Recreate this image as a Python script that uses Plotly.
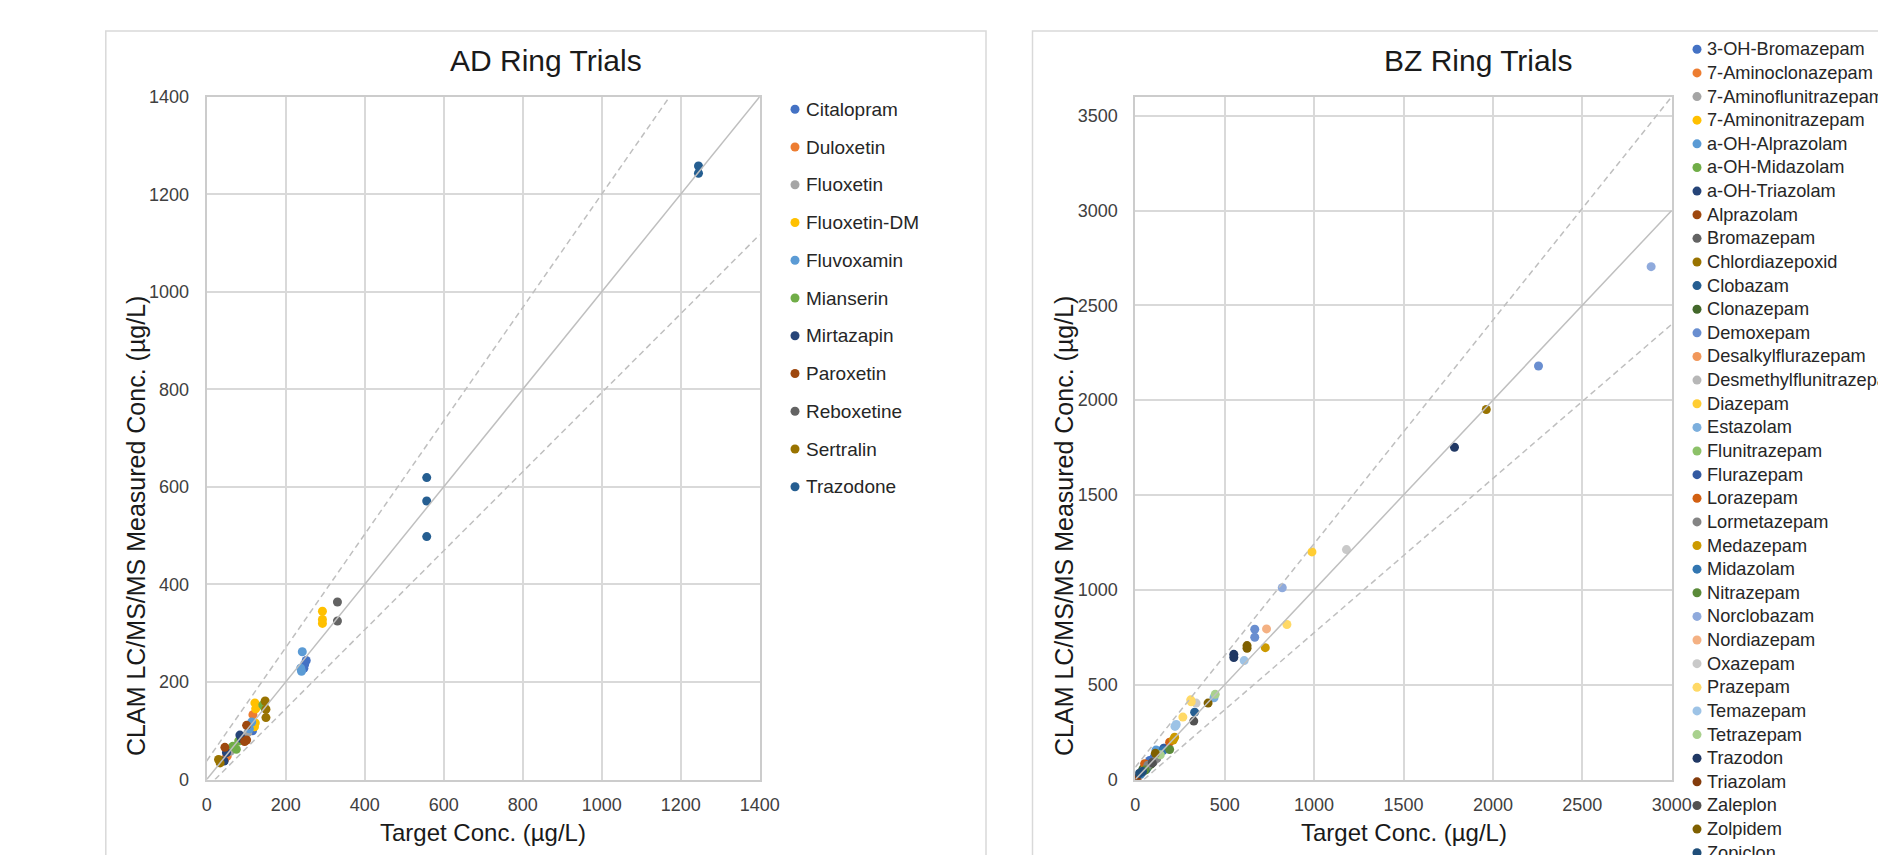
import plotly.graph_objects as go

# ---------------- data ----------------
AD_NAMES = ["Citalopram", "Duloxetin", "Fluoxetin", "Fluoxetin-DM", "Fluvoxamin", "Mianserin",
            "Mirtazapin", "Paroxetin", "Reboxetine", "Sertralin", "Trazodone"]
AD_COLORS = ["#4472C4", "#ED7D31", "#A5A5A5", "#FFC000", "#5B9BD5", "#70AD47",
             "#264478", "#9E480E", "#636363", "#997300", "#255E91"]
AD_TARGET = [
    [112, 116, 248, 252, 246],
    [117, 52, 46],
    [104, 60],
    [293, 293, 293, 122, 124, 123, 121],
    [242, 240, 238, 114, 108],
    [142, 146, 81, 75, 66],
    [84, 88, 50, 44],
    [101, 101, 46, 96],
    [331, 331],
    [148, 150, 150, 30, 34],
    [557, 557, 557, 1245, 1245],
]
AD_MEASURED = [
    [112, 100, 236, 244, 228],
    [133, 48, 42],
    [96, 58],
    [345, 328, 320, 157, 145, 116, 108],
    [262, 222, 228, 118, 104],
    [153, 148, 79, 62, 68],
    [91, 84, 55, 38],
    [111, 81, 66, 78],
    [364, 325],
    [161, 144, 127, 41, 34],
    [619, 571, 498, 1258, 1243],
]

BZ_NAMES = ["3-OH-Bromazepam", "7-Aminoclonazepam", "7-Aminoflunitrazepam", "7-Aminonitrazepam",
            "a-OH-Alprazolam", "a-OH-Midazolam", "a-OH-Triazolam", "Alprazolam", "Bromazepam",
            "Chlordiazepoxid", "Clobazam", "Clonazepam", "Demoxepam", "Desalkylflurazepam",
            "Desmethylflunitrazepam", "Diazepam", "Estazolam", "Flunitrazepam", "Flurazepam",
            "Lorazepam", "Lormetazepam", "Medazepam", "Midazolam", "Nitrazepam", "Norclobazam",
            "Nordiazepam", "Oxazepam", "Prazepam", "Temazepam", "Tetrazepam", "Trazodon",
            "Triazolam", "Zaleplon", "Zolpidem", "Zopiclon"]
BZ_COLORS = ["#4472C4", "#ED7D31", "#A5A5A5", "#FFC000", "#5B9BD5", "#70AD47", "#264478",
             "#9E480E", "#636363", "#997300", "#255E91", "#43682B", "#698ED0", "#F1975A",
             "#B7B7B7", "#FFCD33", "#7CAFDD", "#8CC168", "#335AA1", "#D26012", "#848484",
             "#CC9A00", "#3276B1", "#5A8A39", "#8FAADC", "#F4B183", "#C9C9C9", "#FFD966",
             "#9DC3E6", "#A9D18E", "#203864", "#843C0C", "#525252", "#7F6000", "#1F4E79"]
BZ_TARGET = [
    [80, 105], [30, 62], [15, 40], [45, 25], [116, 130], [35, 70], [10, 20], [8, 14],
    [90, 100], [1963], [332, 60], [43, 85], [2255, 668, 668], [25, 55], [18, 48], [988],
    [440, 160], [127], [160, 72], [192, 52], [70, 120], [727, 220, 212], [155, 30],
    [192, 55], [2885, 822], [734], [1181, 340], [848, 313, 266, 310], [609, 229, 222],
    [447, 140], [1785, 551, 551], [5, 3], [327, 95], [625, 625, 407, 112], [22, 40],
]
BZ_MEASURED = [
    [100, 118], [36, 70], [14, 38], [50, 28], [155, 150], [40, 65], [12, 22], [6, 12],
    [83, 92], [1951], [355, 52], [56, 80], [2180, 792, 750], [30, 60], [20, 46], [1200],
    [431, 165], [135], [165, 78], [197, 83], [75, 110], [695, 223, 208], [153, 28],
    [158, 50], [2704, 1011], [794], [1212, 403], [817, 410, 329, 420], [627, 290, 280],
    [449, 130], [1752, 660, 643], [4, 2], [308, 88], [706, 692, 403, 138], [32, 42],
]

# reference lines
AD_IDENTITY_X = [0, 1400]
AD_IDENTITY_Y = [0, 1400]
AD_UPPER_X = [0, 1172]
AD_UPPER_Y = [38, 1400]
AD_LOWER_X = [21, 1400]
AD_LOWER_Y = [0, 1117]
BZ_IDENTITY_X = [0, 3000]
BZ_IDENTITY_Y = [0, 3000]
BZ_UPPER_X = [0, 3000]
BZ_UPPER_Y = [65, 3600]
BZ_LOWER_X = [48, 3000]
BZ_LOWER_Y = [0, 2400]

AD_TITLE = "AD Ring Trials"
BZ_TITLE = "BZ Ring Trials"
X_TITLE = "Target Conc. (µg/L)"
Y_TITLE = "CLAM LC/MS/MS Measured Conc. (µg/L)"

# ---------------- layout helpers ----------------
# the page body has an 8px margin, so the figure starts at (8, 8) in the window
OFF = 8
W, H = 1886 - OFF, 855 - OFF
FONT = "Liberation Sans, Arial, sans-serif"


def fx(p):
    return (p - OFF) / W


def fy(p):
    return 1 - (p - OFF) / H


fig = go.Figure()

MARKER_SIZE = 9
for name, col, xs, ys in zip(AD_NAMES, AD_COLORS, AD_TARGET, AD_MEASURED):
    fig.add_trace(go.Scatter(x=xs, y=ys, mode="markers", name=name, showlegend=False,
                             marker=dict(color=col, size=MARKER_SIZE, line=dict(width=0)),
                             xaxis="x", yaxis="y"))
for name, col, xs, ys in zip(BZ_NAMES, BZ_COLORS, BZ_TARGET, BZ_MEASURED):
    fig.add_trace(go.Scatter(x=xs, y=ys, mode="markers", name=name, showlegend=False,
                             marker=dict(color=col, size=MARKER_SIZE, line=dict(width=0)),
                             xaxis="x2", yaxis="y2"))

LINE_COL = "#BFBFBF"
DASH = "6px,4px"
for (lx, ly, dash, xa, ya) in [
    (AD_IDENTITY_X, AD_IDENTITY_Y, "solid", "x", "y"),
    (AD_UPPER_X, AD_UPPER_Y, DASH, "x", "y"),
    (AD_LOWER_X, AD_LOWER_Y, DASH, "x", "y"),
    (BZ_IDENTITY_X, BZ_IDENTITY_Y, "solid", "x2", "y2"),
    (BZ_UPPER_X, BZ_UPPER_Y, DASH, "x2", "y2"),
    (BZ_LOWER_X, BZ_LOWER_Y, DASH, "x2", "y2"),
]:
    fig.add_trace(go.Scatter(x=lx, y=ly, mode="lines", showlegend=False, hoverinfo="skip",
                             line=dict(color=LINE_COL, width=1.5, dash=dash),
                             xaxis=xa, yaxis=ya))

# plot areas (window pixels)
AD_L, AD_R, TOP, BOT = 206.7, 759.7, 96.7, 779.5
BZ_L, BZ_R = 1135.3, 1671.7

axis_common = dict(
    showgrid=True, gridcolor="#D9D9D9", gridwidth=1.5,
    showline=True, linecolor="#CCCCCC", linewidth=2, mirror=True,
    zeroline=False, ticks="", automargin=False,
    tickfont=dict(family=FONT, size=18, color="#404040"),
    fixedrange=True,
)

fig.update_layout(
    template="none",
    width=W, height=H,
    margin=dict(l=0, r=0, t=0, b=0, pad=0),
    paper_bgcolor="white", plot_bgcolor="white",
    font=dict(family=FONT, color="#262626"),
    showlegend=False,
    xaxis=dict(domain=[fx(AD_L), fx(AD_R)], range=[0, 1400], tick0=0, dtick=200,
               anchor="y", ticklabelstandoff=8, **axis_common),
    yaxis=dict(domain=[fy(BOT), fy(TOP)], range=[0, 1400], tick0=0, dtick=200,
               anchor="x", ticklabelstandoff=12, **axis_common),
    xaxis2=dict(domain=[fx(BZ_L), fx(BZ_R)], range=[0, 3000], tick0=0, dtick=500,
                anchor="y2", ticklabelstandoff=8, **axis_common),
    yaxis2=dict(domain=[fy(BOT), fy(TOP)], range=[0, 3600], tick0=0, dtick=500,
                anchor="x2", ticklabelstandoff=12, **axis_common),
)

shapes = []
annotations = []

# chart area borders
shapes.append(dict(type="rect", xref="paper", yref="paper",
                   x0=fx(105.8), x1=fx(986), y0=fy(900), y1=fy(31),
                   line=dict(color="#D9D9D9", width=1.5), fillcolor="rgba(0,0,0,0)", layer="below"))
shapes.append(dict(type="rect", xref="paper", yref="paper",
                   x0=fx(1032.5), x1=fx(1960), y0=fy(900), y1=fy(31),
                   line=dict(color="#D9D9D9", width=1.5), fillcolor="rgba(0,0,0,0)", layer="below"))

# titles
for txt, cx in [(AD_TITLE, 546), (BZ_TITLE, 1478)]:
    annotations.append(dict(text=txt, xref="paper", yref="paper", x=fx(cx), y=fy(61),
                            xanchor="center", yanchor="middle", showarrow=False,
                            font=dict(family=FONT, size=30, color="#1A1A1A")))
# axis titles
for cx in [(AD_L + AD_R) / 2, (BZ_L + BZ_R) / 2]:
    annotations.append(dict(text=X_TITLE, xref="paper", yref="paper", x=fx(cx), y=fy(832),
                            xanchor="center", yanchor="middle", showarrow=False,
                            font=dict(family=FONT, size=24, color="#1A1A1A")))
for cx in [136, 1064]:
    annotations.append(dict(text=Y_TITLE, xref="paper", yref="paper", x=fx(cx), y=fy(526),
                            xanchor="center", yanchor="middle", showarrow=False, textangle=-90,
                            font=dict(family=FONT, size=25, color="#1A1A1A")))


# legends (drawn from the series lists)
def add_legend(names, colors, mx, tx, y_first, step, fsize):
    for i, (n, c) in enumerate(zip(names, colors)):
        yc = y_first + i * step
        shapes.append(dict(type="circle", xref="paper", yref="paper",
                           xsizemode="pixel", ysizemode="pixel",
                           xanchor=fx(mx), yanchor=fy(yc),
                           x0=-4.5, x1=4.5, y0=-4.5, y1=4.5,
                           fillcolor=c, line=dict(width=0)))
        annotations.append(dict(text=n, xref="paper", yref="paper", x=fx(tx), y=fy(yc),
                                xanchor="left", yanchor="middle", showarrow=False,
                                font=dict(family=FONT, size=fsize, color="#262626")))


add_legend(AD_NAMES, AD_COLORS, 795, 804, 109.3, 37.75, 19)
add_legend(BZ_NAMES, BZ_COLORS, 1697, 1705, 49.3, 23.63, 18.2)

fig.update_layout(shapes=shapes, annotations=annotations)

fig.write_html("out.html")
